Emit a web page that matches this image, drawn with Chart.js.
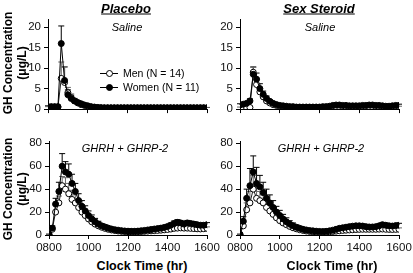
<!DOCTYPE html>
<html>
<head>
<meta charset="utf-8">
<script src="https://cdn.jsdelivr.net/npm/chart.js@4"></script>
<style>
  body { margin: 0; background: #fff; font-family: "Liberation Sans", Arial, sans-serif; color: #000; }
  #fig { position: relative; width: 413px; height: 273px; overflow: hidden; }
  canvas { position: absolute; }
  .t { position: absolute; transform: translate(-50%, -50%); white-space: nowrap; }
  .head { font-size: 13px; font-weight: bold; font-style: italic; text-decoration: underline; }
  .note { font-size: 11px; font-style: italic; }
  .xt { font-size: 12.5px; font-weight: bold; }
  .yt { font-size: 12px; font-weight: bold; line-height: 14px; text-align: center; transform: translate(-50%, -50%) rotate(-90deg); }
  .leg { position: absolute; font-size: 10.5px; height: 12px; line-height: 12px; }
  .leg .ln { position: absolute; left: 0; top: 6px; width: 18px; border-top: 1px solid #000; }
  .leg .mk { position: absolute; left: 6px; top: 3px; width: 5px; height: 5px; border: 1px solid #000; border-radius: 50%; }
  .leg span.lbl { position: absolute; left: 23px; top: 0; }
</style>
</head>
<body>
<div id="fig">
  <canvas id="c1" width="203" height="110" style="left:20px;top:9px"></canvas>
  <canvas id="c2" width="203" height="110" style="left:212px;top:9px"></canvas>
  <canvas id="c3" width="202" height="124" style="left:21px;top:131px"></canvas>
  <canvas id="c4" width="203" height="124" style="left:212px;top:131px"></canvas>

  <div class="t head" style="left:126px;top:8px">Placebo</div>
  <div class="t head" style="left:319px;top:8px">Sex Steroid</div>
  <div class="t note" style="left:127px;top:27px">Saline</div>
  <div class="t note" style="left:320px;top:27px">Saline</div>
  <div class="t note" style="left:125px;top:148px">GHRH + GHRP-2</div>
  <div class="t note" style="left:321px;top:148px">GHRH + GHRP-2</div>
  <div class="t yt" style="left:15px;top:63px">GH Concentration<br>(μg/L)</div>
  <div class="t yt" style="left:15px;top:189px">GH Concentration<br>(μg/L)</div>
  <div class="t xt" style="left:142px;top:266px">Clock Time (hr)</div>
  <div class="t xt" style="left:332px;top:266px">Clock Time (hr)</div>

  <div class="leg" style="left:100px;top:67px;width:100px">
    <div class="ln"></div><div class="mk" style="background:#fff"></div><span class="lbl">Men (N = 14)</span>
  </div>
  <div class="leg" style="left:100px;top:81px;width:100px">
    <div class="ln"></div><div class="mk" style="background:#000"></div><span class="lbl">Women (N = 11)</span>
  </div>
</div>
<script>
// sampling times, every 10 min
const times = ['0800','0810','0820','0830','0840','0850','0900','0910','0920','0930',
  '0940','0950','1000','1010','1020','1030','1040','1050','1100','1110',
  '1120','1130','1140','1150','1200','1210','1220','1230','1240','1250',
  '1300','1310','1320','1330','1340','1350','1400','1410','1420','1430',
  '1440','1450','1500','1510','1520','1530','1540','1550','1600'];
const xTicks = ['0800','1000','1200','1400','1600'];
const yTicksSaline = [0, 5, 10, 15, 20];
const yTicksGh = [0, 20, 40, 60, 80];

// Placebo, saline
const plSalWomen = [0.6,0.6,0.6,0.6,16,7,3.5,2.6,2,1.6,1.3,1,0.8,0.6,0.5,0.4,0.35,0.3,0.3,0.3,
  0.3,0.3,0.3,0.3,0.3,0.3,0.3,0.3,0.3,0.3,0.3,0.3,0.3,0.3,0.3,0.3,0.3,0.3,0.3,0.3,
  0.3,0.3,0.3,0.3,0.3,0.3,0.3,0.3,0.3];
const plSalWomenErr = [0.2,0.2,0.2,0.2,4.3,3.3,1.2,0.8,0.6,0.5,0.4,0.3,0.2,0.2,0.1,0.1,0.1,0.1,0.1,0.1,
  0.1,0.1,0.1,0.1,0.1,0.1,0.1,0.1,0.1,0.1,0.1,0.1,0.1,0.1,0.1,0.1,0.1,0.1,0.1,0.1,
  0.1,0.1,0.1,0.1,0.1,0.1,0.1,0.1,0.1];
const plSalMen = [0.5,0.5,0.5,0.5,7.5,6.5,4,2.8,2,1.5,1.1,0.9,0.7,0.5,0.4,0.35,0.3,0.3,0.3,0.3,
  0.3,0.3,0.3,0.3,0.3,0.3,0.3,0.3,0.3,0.3,0.3,0.3,0.3,0.3,0.3,0.3,0.3,0.3,0.3,0.3,
  0.3,0.3,0.3,0.3,0.3,0.3,0.3,0.3,0.3];
const plSalMenErr = [0.1,0.1,0.1,0.1,4,3.8,1.3,0.9,0.6,0.4,0.3,0.2,0.2,0.1,0.1,0.1,0.1,0.1,0.1,0.1,
  0.1,0.1,0.1,0.1,0.1,0.1,0.1,0.1,0.1,0.1,0.1,0.1,0.1,0.1,0.1,0.1,0.1,0.1,0.1,0.1,
  0.1,0.1,0.1,0.1,0.1,0.1,0.1,0.1,0.1];

// Sex steroid, saline
const ssSalWomen = [1,1.2,1.4,2,8.5,7.3,5,3.6,2.6,1.9,1.4,1.1,0.9,0.8,0.7,0.6,0.6,0.5,0.5,0.5,
  0.5,0.5,0.5,0.5,0.5,0.6,0.6,0.7,0.9,1,1,0.9,0.9,0.8,0.8,0.8,0.8,0.9,0.9,1,
  1,0.9,0.9,0.8,0.7,0.7,0.8,0.9,0.9];
const ssSalWomenErr = [0.3,0.3,0.4,0.5,1.8,1.5,1.2,0.8,0.6,0.4,0.3,0.3,0.2,0.2,0.2,0.2,0.2,0.2,0.2,0.2,
  0.2,0.2,0.2,0.2,0.2,0.2,0.2,0.3,0.3,0.3,0.3,0.3,0.3,0.3,0.3,0.3,0.3,0.3,0.3,0.3,
  0.3,0.3,0.3,0.3,0.3,0.3,0.3,0.3,0.3];
const ssSalMen = [0.4,0.3,0.3,0.4,9,6,4.2,3,2,1.5,1.1,0.9,0.7,0.6,0.5,0.5,0.4,0.4,0.4,0.4,
  0.4,0.4,0.4,0.4,0.4,0.4,0.5,0.5,0.6,0.6,0.6,0.6,0.5,0.5,0.5,0.5,0.5,0.6,0.6,0.6,
  0.6,0.6,0.5,0.5,0.5,0.5,0.6,0.6,0.6];
const ssSalMenErr = [0.1,0.1,0.1,0.1,1.2,1.3,1,0.7,0.5,0.4,0.3,0.2,0.2,0.2,0.1,0.1,0.1,0.1,0.1,0.1,
  0.1,0.1,0.1,0.1,0.1,0.1,0.1,0.1,0.2,0.2,0.2,0.2,0.1,0.1,0.1,0.1,0.1,0.1,0.1,0.1,
  0.1,0.1,0.1,0.1,0.1,0.1,0.1,0.1,0.1];

// Placebo, GHRH + GHRP-2
const plGhWomen = [0.5,6,27,38,60,55,53,45,38,30,25,21,17,14,11.5,9.5,8,7,6,5.2,
  4.6,4.2,3.8,3.5,3.3,3.2,3.2,3.4,3.7,4,4.4,4.8,5.2,5.6,6,6.6,7.4,8.5,10,11,
  10.5,9.5,10.5,10,9.5,9,8.5,8.5,9];
const plGhWomenErr = [0.2,2,5,8,11,9,9,8,7,6,5,4.5,4,3.5,3,2.5,2,1.8,1.5,1.3,
  1.2,1.1,1,1,1,1,1,1,1,1,1.1,1.2,1.3,1.4,1.5,1.6,1.8,2,2.2,2.4,
  2.2,2,2.2,2,2,1.8,1.8,1.8,1.8];
const plGhMen = [0.5,5,20,28,43,40,36,31,28,24,20,17,14,11.5,9.5,8,6.8,5.8,5,4.4,
  3.9,3.5,3.2,3,2.9,2.8,2.8,2.9,3,3.2,3.4,3.6,3.8,4,4.2,4.5,4.8,5.2,5.8,6,
  6.2,6,6,5.8,5.6,5.4,5.3,5.5,5.8];
const plGhMenErr = [0.2,2,6,6,8,10,9,8,7,6.5,6,5,4,3.5,3,2.5,2,1.8,1.5,1.3,
  1.1,1,0.9,0.9,0.8,0.8,0.8,0.8,0.9,0.9,1,1,1,1.1,1.1,1.2,1.2,1.3,1.4,1.4,
  1.4,1.4,1.4,1.3,1.3,1.3,1.2,1.2,1.3];

// Sex steroid, GHRH + GHRP-2
const ssGhWomen = [0.5,12,32,43,55,45,42,37,32,28,24,20,17,14,11.5,9.5,8,6.8,5.8,5,
  4.4,3.9,3.6,3.3,3.1,3,3.2,3.6,4.2,5,5.8,6.3,6.8,7.3,7.7,8,8,7.8,7.3,7,
  7,7.3,8,9,8.5,8,7.8,8.2,8.5];
const ssGhWomenErr = [0.2,4,8,15,14,14,10,9,8,7,6,5,4.5,4,3.5,3,2.5,2,1.8,1.6,
  1.4,1.3,1.2,1.1,1,1,1,1.1,1.2,1.3,1.4,1.5,1.5,1.6,1.6,1.7,1.7,1.6,1.5,1.5,
  1.5,1.5,1.6,1.8,1.7,1.6,1.6,1.6,1.7];
const ssGhMen = [0.5,8,22,28,40,32,30,28,24,21,18,15,12.5,10.5,9,7.5,6.3,5.4,4.6,4,
  3.5,3.1,2.8,2.6,2.5,2.5,2.6,2.8,3.1,3.4,3.7,4,4.2,4.4,4.6,4.8,4.9,5,5,5,
  5,5,5.1,5.2,5,4.9,4.8,4.9,5];
const ssGhMenErr = [0.2,3,6,10,12,10,8,7,6,5.5,5,4.5,4,3.5,3,2.5,2,1.8,1.5,1.3,
  1.1,1,0.9,0.9,0.8,0.8,0.8,0.9,1,1,1.1,1.1,1.2,1.2,1.2,1.2,1.2,1.2,1.2,1.2,
  1.2,1.2,1.2,1.2,1.2,1.2,1.2,1.2,1.2];

function toMin(t) { return parseInt(t.slice(0, 2), 10) * 60 + parseInt(t.slice(2), 10); }
function toLabel(m) { const h = Math.floor(m / 60), mm = m % 60; return String(h).padStart(2, '0') + String(mm).padStart(2, '0'); }
function pts(vals) { return times.map((t, i) => ({ x: toMin(t), y: vals[i] })); }

// SEM bars drawn upward from each point
const errorBars = {
  id: 'errorBars',
  beforeDatasetsDraw(chart) {
    const ctx = chart.ctx;
    const yScale = chart.scales.y;
    chart.data.datasets.forEach((ds, i) => {
      if (!ds.errors) return;
      const meta = chart.getDatasetMeta(i);
      ctx.save();
      ctx.strokeStyle = ds.errorColor;
      ctx.lineWidth = 1;
      meta.data.forEach((pt, j) => {
        const e = ds.errors[j];
        if (!e) return;
        const top = yScale.getPixelForValue(ds.data[j].y + e);
        ctx.beginPath();
        ctx.moveTo(pt.x, pt.y);
        ctx.lineTo(pt.x, top);
        ctx.moveTo(pt.x - 3, top);
        ctx.lineTo(pt.x + 3, top);
        ctx.stroke();
      });
      ctx.restore();
    });
  }
};

function makePanel(id, women, womenErr, men, menErr, yMax, yTicks, showX) {
  const xH = showX ? 20 : 8.5;
  new Chart(document.getElementById(id), {
    type: 'line',
    data: {
      datasets: [
        {
          label: 'Women (N = 11)', data: pts(women), errors: womenErr, errorColor: '#000',
          borderColor: '#000', borderWidth: 1, tension: 0,
          pointRadius: 3, pointBackgroundColor: '#000', pointBorderColor: '#000', pointBorderWidth: 1
        },
        {
          label: 'Men (N = 14)', data: pts(men), errors: menErr, errorColor: '#666',
          borderColor: '#222', borderWidth: 1, tension: 0,
          pointRadius: 3, pointBackgroundColor: '#fff', pointBorderColor: '#000', pointBorderWidth: 1
        }
      ]
    },
    options: {
      responsive: false,
      devicePixelRatio: 1,
      animation: false,
      layout: { padding: { top: 10, right: 16, left: 0, bottom: 0 } },
      plugins: { legend: { display: false }, tooltip: { enabled: false } },
      scales: {
        x: {
          type: 'linear',
          min: toMin(xTicks[0]),
          max: toMin(xTicks[xTicks.length - 1]),
          afterBuildTicks: axis => { axis.ticks = xTicks.map(t => ({ value: toMin(t) })); },
          afterFit: axis => { axis.height = xH; },
          grid: { drawOnChartArea: false, drawTicks: true, tickLength: 4, color: '#000' },
          border: { display: true, color: '#000', width: 1 },
          ticks: {
            display: showX, maxRotation: 0, autoSkip: false, padding: 2,
            color: '#111', font: { family: '"Liberation Sans", Arial', size: 11.5 },
            callback: v => toLabel(v)
          }
        },
        y: {
          min: 0,
          max: yMax,
          afterBuildTicks: axis => { axis.ticks = yTicks.map(v => ({ value: v })); },
          afterFit: axis => { axis.width = 28; },
          grid: { drawOnChartArea: false, drawTicks: true, tickLength: 4, color: '#000' },
          border: { display: true, color: '#000', width: 1 },
          ticks: {
            padding: 3, autoSkip: false,
            color: '#111', font: { family: '"Liberation Sans", Arial', size: 11.5 }
          }
        }
      }
    },
    plugins: [errorBars]
  });
}

makePanel('c1', plSalWomen, plSalWomenErr, plSalMen, plSalMenErr, 22, yTicksSaline, false);
makePanel('c2', ssSalWomen, ssSalWomenErr, ssSalMen, ssSalMenErr, 22, yTicksSaline, false);
makePanel('c3', plGhWomen, plGhWomenErr, plGhMen, plGhMenErr, 82, yTicksGh, true);
makePanel('c4', ssGhWomen, ssGhWomenErr, ssGhMen, ssGhMenErr, 82, yTicksGh, true);
</script>
</body>
</html>
